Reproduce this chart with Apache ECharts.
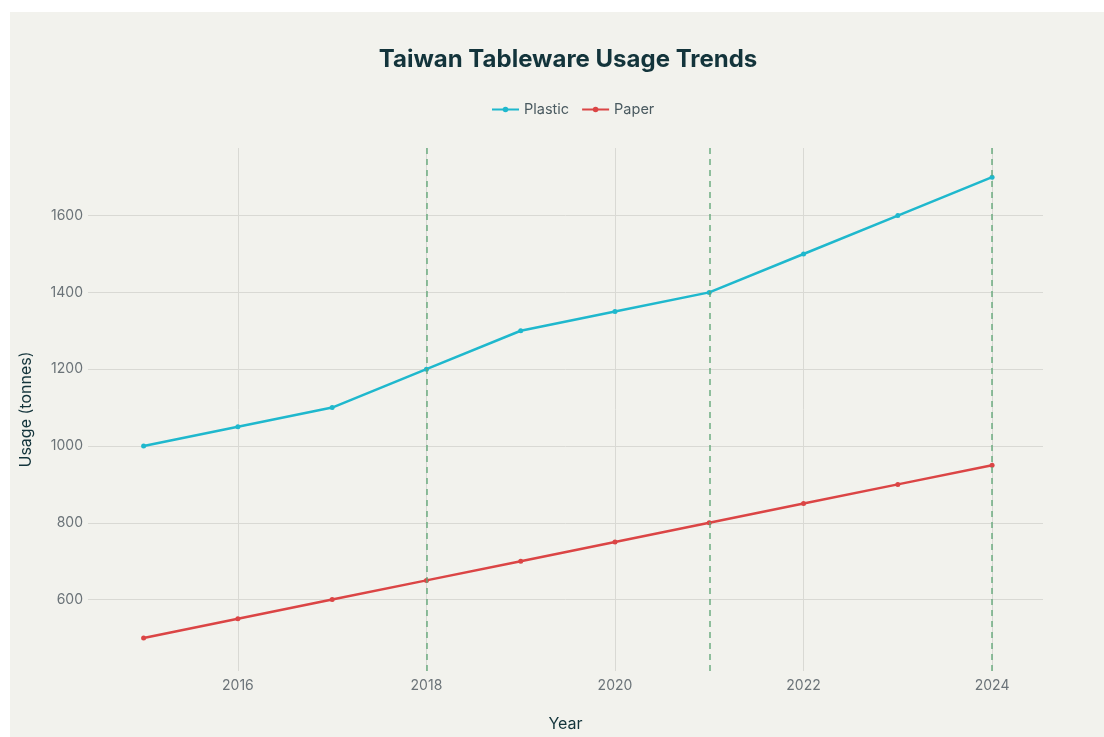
<!DOCTYPE html>
<html>
<head>
<meta charset="utf-8">
<script src="https://cdn.jsdelivr.net/npm/echarts@6/dist/echarts.min.js"></script>
<style>
html,body{margin:0;padding:0;background:#ffffff;}
#chart{position:absolute;left:10px;top:12px;width:1094px;height:725px;background:#f2f2ed;}
</style>
</head>
<body>
<div id="chart"></div>
<script>
const years = [2015, 2016, 2017, 2018, 2019, 2020, 2021, 2022, 2023, 2024];
const plastic = [1000, 1050, 1100, 1200, 1300, 1350, 1400, 1500, 1600, 1700];
const paper = [500, 550, 600, 650, 700, 750, 800, 850, 900, 950];
const xTicks = [2016, 2018, 2020, 2022, 2024];
const yTicks = [600, 800, 1000, 1200, 1400, 1600];
const markYears = [2018, 2021, 2024];

const font = 'Inter, "Noto Sans", sans-serif';
const chart = echarts.init(document.getElementById('chart'));
const pairs = arr => years.map((y, i) => [y, arr[i]]);

chart.setOption({
  backgroundColor: '#f2f2ed',
  animation: false,
  title: {
    text: 'Taiwan Tableware Usage Trends',
    left: 553, top: 31, textAlign: 'center',
    textStyle: { fontFamily: font, fontSize: 24, fontWeight: 'bold', color: '#13343b' }
  },
  legend: {
    top: 85, left: 476,
    data: ['Plastic', 'Paper'],
    itemWidth: 27, itemHeight: 7, itemGap: 12,
    textStyle: { fontFamily: font, fontSize: 14.5, color: '#4a5a60' }
  },
  grid: { left: 76, right: 61, top: 136, bottom: 60 },
  xAxis: {
    type: 'value', min: 2014.41, max: 2024.54,
    name: 'Year', nameLocation: 'middle', nameGap: 45,
    nameTextStyle: { fontFamily: font, fontSize: 16, color: '#13343b' },
    axisLine: { show: false }, axisTick: { show: false, customValues: xTicks },
    axisLabel: { customValues: xTicks, formatter: v => String(v), fontFamily: font, fontSize: 14, color: '#6b7378', margin: 8 },
    splitLine: { show: true, lineStyle: { color: '#d9d9d4', width: 1 } }
  },
  yAxis: {
    type: 'value', min: 414, max: 1776,
    name: 'Usage (tonnes)', nameLocation: 'middle', nameGap: 54,
    nameTextStyle: { fontFamily: font, fontSize: 16, color: '#13343b' },
    axisLine: { show: false }, axisTick: { show: false, customValues: yTicks },
    axisLabel: { customValues: yTicks, formatter: v => String(v), fontFamily: font, fontSize: 14, color: '#6b7378', margin: 5 },
    splitLine: { show: true, lineStyle: { color: '#d9d9d4', width: 1 } }
  },
  series: [
    {
      name: 'Plastic', type: 'line', data: pairs(plastic),
      symbol: 'circle', symbolSize: 5,
      lineStyle: { color: '#1fb8cd', width: 2.5 },
      itemStyle: { color: '#1fb8cd' },
      z: 3,
      markLine: {
        silent: true, symbol: 'none', label: { show: false },
        lineStyle: { color: '#5fa577', type: [6, 5], width: 1.5, opacity: 0.9 },
        data: markYears.map(y => ({ xAxis: y }))
      }
    },
    {
      name: 'Paper', type: 'line', data: pairs(paper),
      symbol: 'circle', symbolSize: 5,
      lineStyle: { color: '#db4545', width: 2.5 },
      itemStyle: { color: '#db4545' },
      z: 3
    }
  ]
});
</script>
</body>
</html>
